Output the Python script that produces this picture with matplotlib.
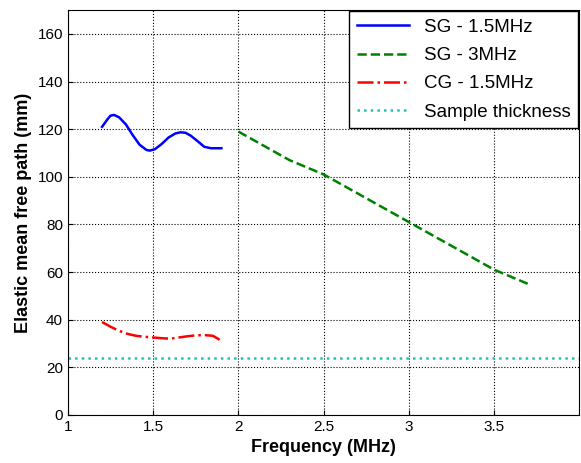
import numpy as np
import matplotlib.pyplot as plt

plt.rcParams['font.family'] = ['Liberation Sans', 'DejaVu Sans']

sg15_x = [1.2, 1.23, 1.25, 1.27, 1.3, 1.34, 1.38, 1.42, 1.46, 1.48, 1.51, 1.55, 1.59, 1.63, 1.66, 1.69, 1.72, 1.76, 1.8, 1.84, 1.9]
sg15_y = [121, 124, 125.7, 126, 125, 122, 117.5, 113.5, 111.3, 111, 111.6, 113.8, 116.5, 118.2, 118.7, 118.5, 117.3, 115, 112.6, 112, 112]
sg3_x = [2.0, 2.1, 2.2, 2.3, 2.4, 2.5, 2.6, 2.7, 2.8, 2.9, 3.0, 3.1, 3.2, 3.3, 3.4, 3.5, 3.6, 3.7]
sg3_y = [119, 115, 111, 107, 104, 101, 97, 93, 89, 85, 81, 77, 73, 69, 65, 61, 58, 55]
cg15_x = [1.2, 1.25, 1.3, 1.35, 1.4, 1.45, 1.5, 1.55, 1.6, 1.65, 1.7, 1.75, 1.8, 1.85, 1.88, 1.9]
cg15_y = [39, 37, 35.3, 34, 33.2, 32.8, 32.5, 32.2, 32, 32.5, 33, 33.4, 33.5, 33.2, 32, 31]
thickness = 24

fig = plt.figure(figsize=(5.81, 4.63), dpi=100)
ax = fig.add_axes([0.117, 0.104, 0.88, 0.874])
ax.plot(sg15_x, sg15_y, color='blue', lw=1.8, label='SG - 1.5MHz')
ax.plot(sg3_x, sg3_y, color='green', ls='--', lw=1.8, label='SG - 3MHz')
ax.plot(cg15_x, cg15_y, color='red', ls='-.', lw=1.8, label='CG - 1.5MHz')
ax.axhline(thickness, color='#20c0c0', ls=':', lw=1.8, label='Sample thickness')
ax.set_xlim(1, 4)
ax.set_ylim(0, 170)
ax.set_xticks([1, 1.5, 2, 2.5, 3, 3.5])
ax.set_xticklabels(['1', '1.5', '2', '2.5', '3', '3.5'])
ax.set_yticks(range(0, 161, 20))
ax.grid(True, color='black', ls=':', lw=0.8)
ax.tick_params(labelsize=11, direction='in')
ax.set_xlabel('Frequency (MHz)', fontsize=13, fontweight='bold')
ax.set_ylabel('Elastic mean free path (mm)', fontsize=13, fontweight='bold')
ax.legend(loc='upper right', fontsize=13.5, fancybox=False, edgecolor='black',
          framealpha=1, borderaxespad=0.05, handlelength=2.8, labelspacing=0.6)
fig.savefig('out.png', dpi=100)
